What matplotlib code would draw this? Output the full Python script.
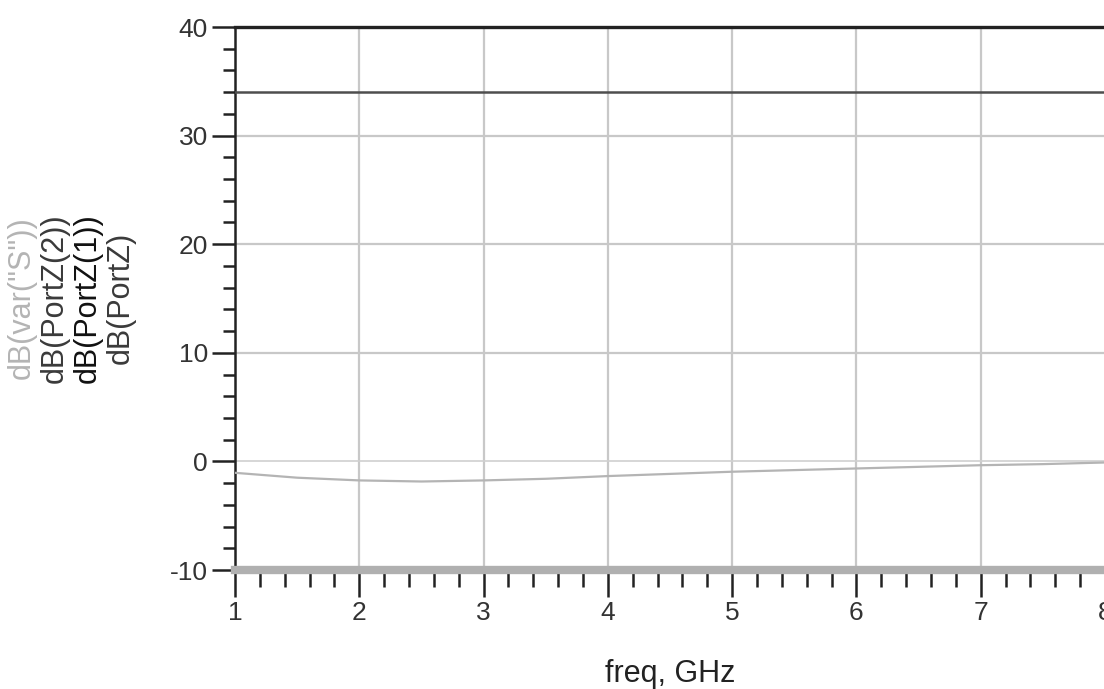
"""ADS-style plot of port impedances and var("S") in dB versus frequency."""

import matplotlib.pyplot as plt
from matplotlib.ticker import MultipleLocator

plt.rcParams["font.family"] = ["Liberation Sans", "DejaVu Sans"]
plt.rcParams["axes.unicode_minus"] = False

# Data
freq_ghz = [1.0, 1.5, 2.0, 2.5, 3.0, 3.5, 4.0, 4.5, 5.0, 5.5, 6.0, 6.5, 7.0, 7.5, 8.0]
db_var_s = [-1.05, -1.5, -1.75, -1.85, -1.75, -1.6, -1.35, -1.15, -0.95,
            -0.8, -0.65, -0.5, -0.35, -0.25, -0.1]
db_portz2 = [40.0] * len(freq_ghz)
db_portz1 = [34.0] * len(freq_ghz)
db_portz = [-10.0] * len(freq_ghz)

trace_labels = ['dB(var("S"))', "dB(PortZ(2))", "dB(PortZ(1))", "dB(PortZ)"]
trace_colors = ["#b4b4b4", "#3a3a3a", "#111111", "#3a3a3a"]


def plot():
    """Create plot."""
    fig = plt.figure(figsize=(11.04, 6.89), dpi=100)
    ax = fig.add_axes([0.2129, 0.1727, 0.7880, 0.7881])

    ax.set_xlim(1, 8)
    ax.set_ylim(-10, 40)

    # grid
    for x in range(2, 8):
        ax.axvline(x, color="#c8c8c8", lw=1.6, zorder=1)
    for y in (10, 20, 30):
        ax.axhline(y, color="#c8c8c8", lw=1.6, zorder=1)
    ax.axhline(0, color="#d0d0d0", lw=1.2, zorder=1)

    # traces
    ax.plot(freq_ghz, db_portz, color="#b0b0b0", lw=6, zorder=3, clip_on=False)
    ax.plot(freq_ghz, db_var_s, color="#b4b4b4", lw=1.6, zorder=3)
    ax.plot(freq_ghz, db_portz1, color="#4e4e4e", lw=1.8, zorder=3)
    ax.plot(freq_ghz, db_portz2, color="#222222", lw=2.4, zorder=4, clip_on=False)

    for side in ("top", "right", "bottom"):
        ax.spines[side].set_visible(False)
    ax.spines["left"].set_linewidth(1.8)
    ax.spines["left"].set_color("#222222")

    ax.xaxis.set_major_locator(MultipleLocator(1))
    ax.xaxis.set_minor_locator(MultipleLocator(0.2))
    ax.yaxis.set_major_locator(MultipleLocator(10))
    ax.yaxis.set_minor_locator(MultipleLocator(2))
    ax.tick_params(axis="y", which="major", direction="out", length=16.5,
                   width=1.8, color="#222222", labelsize=19, pad=3,
                   labelcolor="#333333")
    ax.tick_params(axis="y", which="minor", direction="out", length=8.5,
                   width=1.8, color="#222222")
    ax.tick_params(axis="x", which="major", direction="out", length=19.5,
                   width=1.8, color="#222222", labelsize=19, pad=3,
                   labelcolor="#333333")
    ax.tick_params(axis="x", which="minor", direction="out", length=12,
                   width=1.8, color="#222222")
    for lbl in ax.get_xticklabels():
        lbl.set_clip_on(False)

    ax.set_xlabel("freq, GHz", fontsize=22, color="#222222", labelpad=24)

    # stacked, individually coloured y labels
    for i, (text, color) in enumerate(zip(trace_labels, trace_colors)):
        fig.text((22 + 33 * i) / 1104, 1 - 298 / 689, text, rotation=90,
                 ha="center", va="center", fontsize=22, color=color)

    plt.savefig("out.png", dpi=100)


def main():
    plot()


if __name__ == "__main__":
    main()
